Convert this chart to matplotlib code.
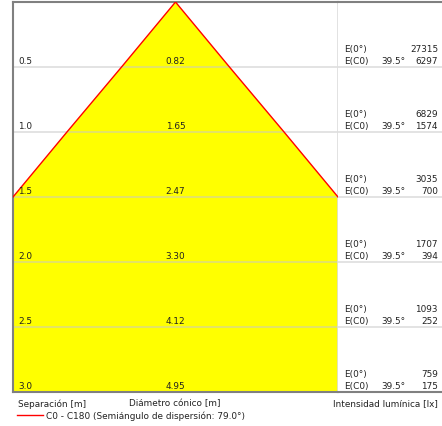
import matplotlib
matplotlib.use('Agg')
import matplotlib.pyplot as plt
import numpy as np

# cone diagram data
separation = [0.5, 1.0, 1.5, 2.0, 2.5, 3.0]
diameter = [0.82, 1.65, 2.47, 3.30, 4.12, 4.95]
e_center = [27315, 6829, 3035, 1707, 1093, 759]
e_c0 = [6297, 1574, 700, 394, 252, 175]
half_angle = 39.5
spread_angle = 79.0

plt.rcParams['font.family'] = ['DejaVu Sans']
txt = '#222222'
fs = 6.4

W, H = 442, 427
fig = plt.figure(figsize=(W / 100, H / 100), dpi=100)

# left panel: cone, right panel: illuminance values
ax = fig.add_axes([13 / W, 34 / H, 325 / W, 390 / H])
axr = fig.add_axes([338 / W, 34 / H, 104 / W, 390 / H])

half = 2.47 / 2
ax.set_xlim(-half, half)
for a in (ax, axr):
    a.set_ylim(3.0, 0.0)
    a.set_xticks([])
    a.set_yticks([])
axr.set_xlim(0, 1)

# yellow cone with red edges
ys = [0.0] + separation
xr = [0.0] + [d / 2 for d in diameter]
xl = [-v for v in xr]
ax.fill_betweenx(ys, xl, xr, color='#ffff00', lw=0, zorder=1)
ax.plot(xl, ys, color='red', lw=1, zorder=3)
ax.plot(xr, ys, color='red', lw=1, zorder=3)

# row separators
for s in separation[:-1]:
    ax.axhline(s, color='#c8c8c8', lw=1.2, alpha=0.6, zorder=2)
    axr.axhline(s, color='#c8c8c8', lw=1.2, alpha=0.6, zorder=2)

# frame
for a in (ax, axr):
    for sp in a.spines.values():
        sp.set_color('#808080')
        sp.set_linewidth(1.5)
ax.spines['right'].set_color('#dddddd')
ax.spines['right'].set_linewidth(1.2)
axr.spines['left'].set_visible(False)
axr.spines['right'].set_visible(False)

px = 'offset pixels'
for s, d, e0, ec in zip(separation, diameter, e_center, e_c0):
    ax.annotate(f'{s:.1f}', (-half, s), xytext=(5, 4), textcoords=px,
                fontsize=fs, color=txt, ha='left', va='baseline', zorder=4)
    ax.annotate(f'{d:.2f}', (0, s), xytext=(0, 4), textcoords=px,
                fontsize=fs, color=txt, ha='center', va='baseline', zorder=4)
    axr.annotate('E(0°)', (0, s), xytext=(6, 16), textcoords=px,
                 fontsize=fs, color=txt, ha='left', va='baseline')
    axr.annotate('E(C0)', (0, s), xytext=(6, 4), textcoords=px,
                 fontsize=fs, color=txt, ha='left', va='baseline')
    axr.annotate(f'{half_angle:.1f}°', (0, s), xytext=(67, 4), textcoords=px,
                 fontsize=fs, color=txt, ha='right', va='baseline')
    axr.annotate(f'{e0}', (1, s), xytext=(-4, 16), textcoords=px,
                 fontsize=fs, color=txt, ha='right', va='baseline')
    axr.annotate(f'{ec}', (1, s), xytext=(-4, 4), textcoords=px,
                 fontsize=fs, color=txt, ha='right', va='baseline')

# axis captions
fig.text(18 / W, 1 - 404 / H, 'Separación [m]', fontsize=fs, color=txt, ha='left', va='center')
fig.text(175 / W, 1 - 404 / H, 'Diámetro cónico [m]', fontsize=fs, color=txt, ha='center', va='center')
fig.text(438 / W, 1 - 404 / H, 'Intensidad lumínica [lx]', fontsize=fs, color=txt, ha='right', va='center')

# legend line
fig.add_artist(plt.Line2D([17 / W, 43 / W], [1 - 416 / H, 1 - 416 / H], color='red', lw=1))
fig.text(46 / W, 1 - 416 / H, f'C0 - C180 (Semiángulo de dispersión: {spread_angle:.1f}°)',
         fontsize=fs, color=txt, ha='left', va='center')

fig.savefig('out.png', dpi=100)
